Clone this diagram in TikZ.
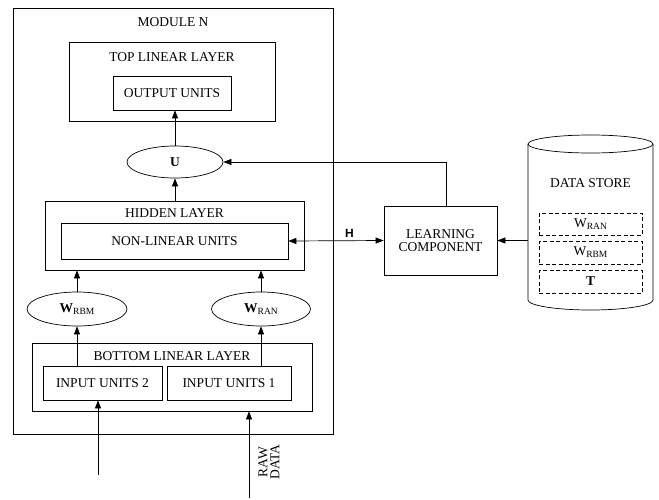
\documentclass[tikz,border=0pt]{standalone}
\usepackage{fontspec}
\setmainfont{Liberation Serif}
\newfontfamily\arialfont{Liberation Sans}
\usetikzlibrary{arrows.meta,shapes.geometric}
\newcommand{\subtxt}[1]{\raisebox{-0.35ex}{\fontsize{9.5}{10}\selectfont #1}}
\tikzset{
  every node/.style={font=\fontsize{13.5}{15}\selectfont},
  box/.style={draw, line width=0.7pt, inner sep=0pt},
  oval/.style={draw, ellipse, line width=0.7pt, inner sep=0pt},
  dbox/.style={draw, dashed, dash pattern=on 4pt off 2.5pt, line width=0.7pt, inner sep=0pt},
  lbl/.style={inner sep=0pt},
  arr/.style={line width=0.7pt, -{Triangle[length=8pt,width=6pt]}},
  arrb/.style={line width=0.7pt, {Triangle[length=8pt,width=6pt]}-{Triangle[length=8pt,width=6pt]}},
}
\begin{document}
\begin{tikzpicture}[x=1pt,y=-1pt]
\useasboundingbox (0,0) rectangle (659,499);
\fill[white] (0,0) rectangle (659,499);
% module
\node[box, minimum width=320, minimum height=426] (mod) at (173,221) {};
\node[lbl] (modt) at (173,22) {MODULE N};
% top layer
\node[box, minimum width=206, minimum height=79] (top) at (172,81.5) {};
\node[lbl] (topt) at (172,57) {TOP LINEAR LAYER};
\node[box, minimum width=118, minimum height=34] (out) at (172,93) {OUTPUT UNITS};
% U
\node[oval, minimum width=96, minimum height=32] (u) at (175,162) {\textbf{U}};
% hidden
\node[box, minimum width=259, minimum height=69] (hid) at (174.5,235.5) {};
\node[lbl] (hidt) at (174.5,213) {HIDDEN LAYER};
\node[box, minimum width=227, minimum height=36] (nl) at (174.5,241) {NON-LINEAR UNITS};
% weights
\node[oval, minimum width=100, minimum height=34] (wrbm) at (77,309) {\textbf{W}\subtxt{RBM}};
\node[oval, minimum width=99, minimum height=34] (wran) at (261,309) {\textbf{W}\subtxt{RAN}};
% bottom
\node[box, minimum width=280, minimum height=68] (bot) at (172,377) {};
\node[lbl] (bott) at (172,356) {BOTTOM LINEAR LAYER};
\node[box, minimum width=119, minimum height=34] (iu2) at (102.5,383) {INPUT UNITS 2};
\node[box, minimum width=124, minimum height=34] (iu1) at (229,383) {INPUT UNITS 1};
% learning component
\node[box, minimum width=113, minimum height=69, align=center] (lc) at (440.5,240.5) {LEARNING\\[-2pt]COMPONENT};
% data store
\draw[line width=0.7pt] (528,144) -- (528,300) arc[start angle=180,end angle=0,x radius=62.5,y radius=10] -- (653,144);
\draw[line width=0.7pt] (590.5,144) ellipse[x radius=62.5,y radius=9];
\node[lbl, minimum width=125, minimum height=166] (ds) at (590.5,227) {};
\node[lbl] (dst) at (590.5,183) {DATA STORE};
\node[dbox, minimum width=103, minimum height=22] (d1) at (590.5,224) {W\subtxt{RAN}};
\node[dbox, minimum width=103, minimum height=23] (d2) at (590.5,252.5) {W\subtxt{RBM}};
\node[dbox, minimum width=103, minimum height=23] (d3) at (590.5,281.5) {\textbf{T}};
% connectors
\draw[arr] (u.north) -- (u.north |- out.south);
\draw[arr] (u.south |- hid.north) -- (u.south);
\draw[arr] ([xshift=5.5pt]lc.north) |- (u.east);
\draw[arrb] (nl.east) -- (lc.west) node[pos=0.64, above=3pt, lbl, font=\arialfont\bfseries\fontsize{12}{13}\selectfont] (h) {H};
\draw[arr] (wrbm.north) -- (wrbm.north |- hid.south);
\draw[arr] (wran.north) -- (wran.north |- hid.south);
\draw[arr] (wrbm.south |- iu2.north) -- (wrbm.south);
\draw[arr] (wran.south |- iu1.north) -- (wran.south);
\coordinate (in2) at (98,475);
\coordinate (raw) at (249,498);
\draw[arr] (in2) -- (in2 |- iu2.south);
\draw[arr] (raw) -- (raw |- bot.south);
\node[lbl, rotate=90, align=center] (rawt) at (269,462) {RAW\\[-3pt]DATA};
\draw[arr] (ds.west |- lc.east) -- (lc.east);
\end{tikzpicture}
\end{document}
